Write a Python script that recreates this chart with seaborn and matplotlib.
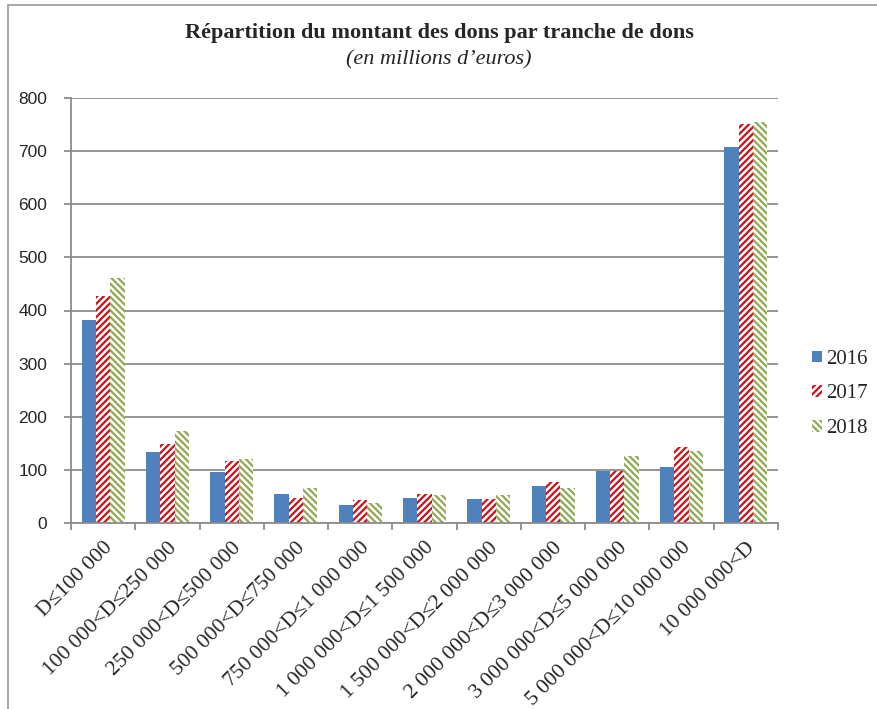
import seaborn as sns
import numpy as np
import pandas as pd
import matplotlib.pyplot as plt
from matplotlib.patches import Patch
from matplotlib.lines import Line2D

# Data (millions d'euros) ----------------------------------------------------
tranches = ['D≤100 000', '100 000<D≤250 000', '250 000<D≤500 000',
            '500 000<D≤750 000', '750 000<D≤1 000 000', '1 000 000<D≤1 500 000',
            '1 500 000<D≤2 000 000', '2 000 000<D≤3 000 000',
            '3 000 000<D≤5 000 000', '5 000 000<D≤10 000 000', '10 000 000<D']
years = ['2016', '2017', '2018']
dons_2016 = [383, 134, 96, 55, 34, 47, 45, 69, 97, 106, 707]
dons_2017 = [427, 149, 117, 47, 44, 54, 46, 78, 98, 143, 752]
dons_2018 = [461, 174, 121, 66, 37, 52, 53, 66, 127, 135, 755]
yticks = [0, 100, 200, 300, 400, 500, 600, 700, 800]
# -----------------------------------------------------------------------------

df = pd.DataFrame({
    'Tranche': tranches * 3,
    'Année': [y for y in years for _ in tranches],
    'Montant': dons_2016 + dons_2017 + dons_2018,
})

sns.set_style('white')
plt.rcParams['hatch.linewidth'] = 1.6

blue, red, green = '#4F81BD', '#CC1018', '#8DAA52'
styles = {'2016': (blue, blue, ''), '2017': ('white', red, '/////'),
          '2018': ('white', green, '\\\\\\\\\\')}

fig = plt.figure(figsize=(8.78, 7.09), dpi=100)
ax = fig.add_axes([71 / 878, 1 - 523 / 709, (778 - 71) / 878, (523 - 98) / 709])

sns.barplot(data=df, x='Tranche', y='Montant', hue='Année', order=tranches,
            hue_order=years, palette=[blue, red, green], width=0.67,
            saturation=1, ax=ax, legend=False)

for yr, cont in zip(years, ax.containers):
    fc, ec, h = styles[yr]
    for p in cont.patches:
        p.set_facecolor(fc)
        p.set_edgecolor(ec)
        p.set_hatch(h)
        p.set_linewidth(0)

ax.set_ylim(0, 800)
ax.set_xlim(-0.5, len(tranches) - 0.5)
ax.set_yticks(yticks)
ax.set_yticklabels([str(v) for v in yticks], fontfamily='Liberation Sans', fontsize=12.5)
ax.yaxis.grid(True, color='#8C8C8C', linewidth=1.3)
ax.set_axisbelow(True)
ax.set_xlabel('')
ax.set_ylabel('')

for s in ['top', 'right']:
    ax.spines[s].set_visible(False)
for s in ['left', 'bottom']:
    ax.spines[s].set_color('#8C8C8C')
    ax.spines[s].set_linewidth(1.3)

ax.tick_params(axis='y', length=5, width=1.3, color='#8C8C8C', left=True, pad=12)
ax.set_xticks(np.arange(len(tranches)))
ax.set_xticklabels(tranches, rotation=45, ha='right', va='top', rotation_mode='anchor',
                   fontfamily='Liberation Serif', fontsize=15.5)
ax.tick_params(axis='x', which='major', length=0, pad=11)
ax.set_xticks(np.arange(-0.5, len(tranches)), minor=True)
ax.tick_params(axis='x', which='minor', length=5, width=1.3, color='#8C8C8C', bottom=True)

handles = [Patch(facecolor=styles[y][0], edgecolor=styles[y][1], hatch=styles[y][2],
                 linewidth=0, label=y) for y in years]
fig.legend(handles=handles, loc='center left', bbox_to_anchor=(812 / 878, 1 - 394 / 709),
           frameon=False, prop={'family': 'Liberation Serif', 'size': 15},
           handlelength=0.5, handleheight=0.5, handletextpad=0.2, labelspacing=0.75,
           borderpad=0, borderaxespad=0)

fig.text(0.5, 1 - 33 / 709, 'Répartition du montant des dons par tranche de dons',
         ha='center', va='center', fontfamily='Liberation Serif', fontweight='bold', fontsize=16)
fig.text(0.5, 1 - 60 / 709, '(en millions d’euros)', ha='center', va='center',
         fontfamily='Liberation Serif', fontstyle='italic', fontsize=16)

# thin frame of the original chart object
fig.add_artist(Line2D([8 / 878, 1], [1 - 5 / 709, 1 - 5 / 709], color='#A0A0A0', lw=1.3))
fig.add_artist(Line2D([8 / 878, 8 / 878], [0, 1 - 5 / 709], color='#A0A0A0', lw=1.3))

fig.savefig('out.png', dpi=100)
